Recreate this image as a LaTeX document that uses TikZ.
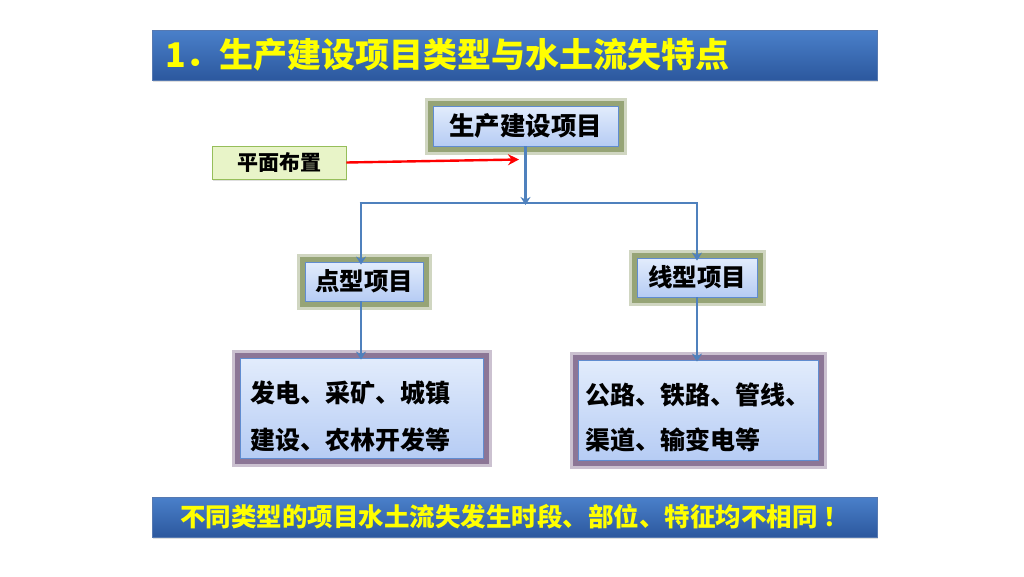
\documentclass[tikz,border=0pt]{standalone}
\usepackage{fontspec}
\setmainfont{Noto Sans CJK SC}
\usepackage{xcolor}
\usetikzlibrary{arrows.meta,positioning,calc,shadows}

\definecolor{barTop}{RGB}{74,128,202}
\definecolor{barBot}{RGB}{44,88,158}
\definecolor{titleYellow}{RGB}{255,255,0}
\definecolor{boxTop}{RGB}{226,236,252}
\definecolor{boxBot}{RGB}{182,204,244}
\definecolor{boxEdge}{RGB}{96,140,208}
\definecolor{glowGreen}{RGB}{150,164,118}
\definecolor{glowPurple}{RGB}{140,118,150}
\definecolor{planFill}{RGB}{232,244,200}
\definecolor{planEdge}{RGB}{150,190,90}
\definecolor{flowBlue}{RGB}{79,129,189}

\begin{document}
\begin{tikzpicture}[
  x=1pt, y=-1pt,
  every node/.style={align=center, inner sep=0pt},
  bar/.style={top color=barTop, bottom color=barBot, draw=barBot!80,
    drop shadow={opacity=0.25, shadow xshift=1pt, shadow yshift=-2pt},
    text=titleYellow, font=\bfseries},
  inbox/.style={draw=boxEdge, line width=0.8pt, top color=boxTop, bottom color=boxBot},
  greenglow/.style={inbox,
    preaction={draw=glowGreen!45, line width=17pt, rounded corners=3pt},
    preaction={draw=glowGreen, line width=11pt, rounded corners=2pt}},
  purpleglow/.style={inbox,
    preaction={draw=glowPurple!45, line width=17pt, rounded corners=3pt},
    preaction={draw=glowPurple, line width=11pt, rounded corners=2pt}},
  plan/.style={draw=planEdge, line width=0.8pt, fill=planFill,
    drop shadow={opacity=0.25, shadow xshift=1pt, shadow yshift=-2pt}},
  flow/.style={draw=flowBlue, line width=2.6pt},
  arrow/.style={flow, -{Stealth[length=8pt, width=10pt]}},
  redarrow/.style={draw=red, line width=2.4pt, -{Stealth[length=11pt, width=11pt]}},
]
\useasboundingbox (0,0) rectangle (1024,576);

%% title and closing remark
\node[bar, minimum width=725pt, minimum height=50pt, text width=699pt,
  align=left, inner xsep=13pt, font=\bfseries\fontsize{34}{37}\selectfont]
  (title) at (514.5,55) {1．生产建设项目类型与水土流失特点};
\node[bar, minimum width=725pt, minimum height=40pt,
  font=\bfseries\fontsize{25.5}{28}\selectfont]
  (remark) at (514.5,517) {不同类型的项目水土流失发生时段、部位、特征均不相同 ！};

%% project tree
\node[greenglow, minimum width=185pt, minimum height=40pt,
  font=\bfseries\fontsize{25.5}{28}\selectfont] (project) at (525.5,126) {生产建设项目};
\node[plan, minimum width=134pt, minimum height=33pt,
  font=\bfseries\fontsize{21}{24}\selectfont] (layout) at (279,162.5) {平面布置};

\node[greenglow, minimum width=118pt, minimum height=39pt,
  font=\bfseries\fontsize{24.5}{28}\selectfont] (point) at (364,281.5) {点型项目};
\node[greenglow, minimum width=120pt, minimum height=39pt,
  font=\bfseries\fontsize{24.5}{28}\selectfont] (linear) at (697,277.5) {线型项目};

\node[purpleglow, minimum width=243pt, minimum height=100pt, text width=223pt,
  inner xsep=10pt, align=left, font=\bfseries\fontsize{25}{47}\selectfont]
  (pointEx) at (361.5,408) {\rule{0pt}{38pt}发电、采矿、城镇\\建设、农林开发等};
\node[purpleglow, minimum width=240pt, minimum height=100pt, text width=226pt,
  inner xsep=7pt, align=left, font=\bfseries\fontsize{25}{45}\selectfont]
  (linearEx) at (698,410) {\rule{0pt}{36pt}公路、铁路、管线、\\渠道、输变电等};

\coordinate (split) at (project.south |- 0,203);
\coordinate (leftTurn) at (361,203);
\coordinate (rightTurn) at (697,203);
\coordinate (redTip) at (519,159.5);

\draw[redarrow] (layout.east) -- (redTip);
\draw[arrow] (project.south) -- ([yshift=-2pt]split);
\draw[flow] ([xshift=-1.3pt]leftTurn) -- ([xshift=1.3pt]rightTurn);
\draw[arrow] ([yshift=-1pt]leftTurn) -- ([yshift=-3pt]leftTurn |- point.north);
\draw[arrow] ([yshift=-1pt]rightTurn) -- ([yshift=-3pt]linear.north);
\draw[arrow] (point.south -| leftTurn) -- ([yshift=-2pt]pointEx.north -| leftTurn);
\draw[arrow] (linear.south) -- ([yshift=-2pt]linearEx.north -| linear.south);

\end{tikzpicture}
\end{document}
